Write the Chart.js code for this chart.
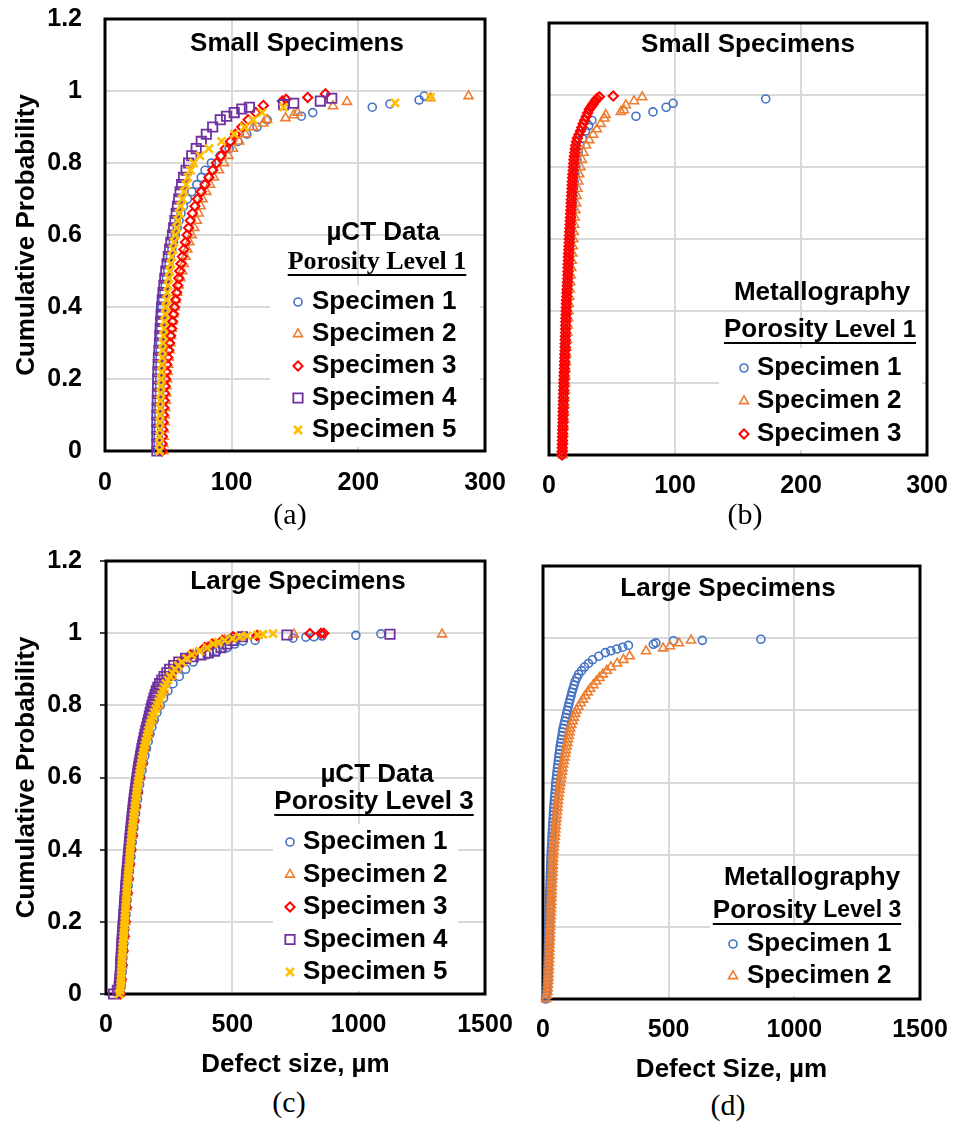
<!DOCTYPE html>
<html>
<head>
<meta charset="utf-8">
<script src="https://cdn.jsdelivr.net/npm/chart.js@4.4.1/dist/chart.umd.min.js"></script>
<style>
  body { margin: 0; background: #fff; }
  #page { position: relative; width: 953px; height: 1122px; background: #fff; overflow: hidden; }
  canvas { position: absolute; }
  .cap { position: absolute; font-family: 'Liberation Serif', 'Times New Roman', serif; font-size: 30px;
         line-height: 1; transform: translate(-50%, -50%); color: #000; }
</style>
</head>
<body>
<div id="page">
  <canvas id="chartA" width="520" height="500" style="left:0;top:0"></canvas>
  <canvas id="chartB" width="433" height="500" style="left:520px;top:0"></canvas>
  <canvas id="chartC" width="520" height="540" style="left:0;top:540px"></canvas>
  <canvas id="chartD" width="433" height="545" style="left:520px;top:540px"></canvas>
  <div class="cap" style="left:290px;top:514px">(a)</div>
  <div class="cap" style="left:745px;top:514px">(b)</div>
  <div class="cap" style="left:289px;top:1102px">(c)</div>
  <div class="cap" style="left:728px;top:1105px">(d)</div>
</div>
<script>
var SANS = "'Liberation Sans', Arial, sans-serif";
var SERIF = "'Liberation Serif', 'Times New Roman', serif";

var probTicks = [0, 0.2, 0.4, 0.6, 0.8, 1, 1.2];
var sizeTicksSmall = [0, 100, 200, 300];
var sizeTicksLarge = [0, 500, 1000, 1500];
var specimenNames = ['Specimen 1', 'Specimen 2', 'Specimen 3', 'Specimen 4', 'Specimen 5'];

// (a) µCT, small specimens, porosity level 1  -- [defect size µm, cumulative probability]
var smallCt1 = [[42,0],[42,0.02],[42,0.04],[42.2,0.06],[42.4,0.08],[42.5,0.1],[42.6,0.12],[42.8,0.14],[43,0.16],[43.1,0.18],[43.2,0.2],[43.3,0.22],[43.4,0.24],[43.5,0.26],[43.6,0.28],[43.7,0.3],[43.8,0.32],[44,0.34],[44.2,0.36],[44.5,0.38],[45,0.4],[45.5,0.42],[46.5,0.44],[47.5,0.46],[48.5,0.48],[49.5,0.5],[50.5,0.52],[51.6,0.54],[52.8,0.56],[54,0.58],[55.5,0.6],[57,0.62],[58.5,0.64],[60,0.66],[62,0.68],[65,0.7],[68.5,0.72],[72.5,0.74],[76,0.76],[79,0.78],[84,0.8],[91,0.82],[98,0.84],[105,0.86],[112,0.88],[120,0.9],[128,0.92],[155,0.93],[164,0.94],[211,0.955],[225,0.964],[248,0.975],[252,0.986]];
var smallCt2 = [[46,0],[46,0.02],[46.3,0.04],[46.6,0.06],[47,0.08],[47.3,0.1],[47.6,0.12],[48,0.14],[48.3,0.16],[48.6,0.18],[49,0.2],[49.4,0.22],[49.8,0.24],[50.4,0.26],[51,0.28],[51.6,0.3],[52.2,0.32],[52.8,0.34],[53.4,0.36],[54,0.38],[55,0.4],[56,0.42],[57,0.44],[58.2,0.46],[59.5,0.48],[61,0.5],[62.2,0.52],[63.6,0.54],[65,0.56],[66.6,0.58],[68.5,0.6],[70.5,0.62],[72.5,0.64],[74,0.66],[75.5,0.68],[77,0.7],[80,0.72],[83,0.74],[86,0.76],[90,0.78],[94,0.8],[97.5,0.82],[101,0.84],[106,0.86],[111,0.88],[117,0.9],[125,0.91],[128,0.92],[142.5,0.925],[149,0.933],[152,0.94],[180,0.958],[191,0.97],[257,0.98],[287,0.986]];
var smallCt3 = [[45,0],[45,0.02],[45.3,0.04],[45.5,0.06],[45.8,0.08],[46,0.1],[46.3,0.12],[46.6,0.14],[47,0.16],[47.4,0.18],[47.8,0.2],[48.3,0.22],[48.8,0.24],[49.5,0.26],[50.3,0.28],[51,0.3],[51.8,0.32],[52.6,0.34],[53.4,0.36],[54.2,0.38],[55,0.4],[55.8,0.42],[56.6,0.44],[57.4,0.46],[58.2,0.48],[59,0.5],[60,0.52],[61,0.54],[62.2,0.56],[63.5,0.58],[64.8,0.6],[66,0.62],[67.3,0.64],[69,0.66],[71,0.68],[73,0.7],[76,0.72],[79,0.74],[82,0.76],[85,0.78],[88,0.8],[91.5,0.82],[95,0.84],[99,0.86],[103,0.88],[108,0.9],[113,0.92],[119,0.94],[125,0.96],[140,0.972],[143,0.977],[160,0.982],[174,0.992]];
var smallCt4 = [[41,0],[41,0.02],[41,0.04],[41,0.06],[41,0.08],[41,0.1],[41.2,0.12],[41.3,0.14],[41.4,0.16],[41.5,0.18],[41.6,0.2],[41.8,0.22],[42,0.24],[42.2,0.26],[42.6,0.28],[43,0.3],[43.3,0.32],[43.6,0.34],[44,0.36],[44.3,0.38],[44.7,0.4],[45.2,0.42],[45.8,0.44],[46.5,0.46],[47.2,0.48],[48,0.5],[49,0.52],[50,0.54],[51,0.56],[52,0.58],[53.3,0.6],[54.2,0.62],[55.2,0.64],[56.2,0.66],[57.2,0.68],[58.2,0.7],[59.3,0.72],[60.5,0.74],[62,0.76],[64,0.78],[66,0.8],[68.5,0.82],[72,0.84],[76,0.86],[80,0.88],[85,0.9],[91,0.92],[96,0.93],[102,0.94],[108,0.95],[114,0.955],[141,0.962],[149,0.966],[170,0.972],[179,0.98]];
var smallCt5 = [[43,0],[43,0.02],[43.2,0.04],[43.3,0.06],[43.4,0.08],[43.5,0.1],[43.6,0.12],[43.8,0.14],[44,0.16],[44.2,0.18],[44.4,0.2],[44.6,0.22],[44.9,0.24],[45.2,0.26],[45.5,0.28],[45.8,0.3],[46.2,0.32],[46.6,0.34],[47,0.36],[47.5,0.38],[48,0.4],[48.6,0.42],[49.2,0.44],[49.8,0.46],[50.5,0.48],[51.2,0.5],[52,0.52],[52.8,0.54],[53.6,0.56],[54.5,0.58],[55.5,0.6],[56.5,0.62],[57.5,0.64],[58.6,0.66],[59.8,0.68],[61,0.7],[62.5,0.72],[64,0.74],[65.5,0.76],[67.5,0.78],[70,0.8],[75,0.82],[82,0.84],[92,0.86],[102,0.88],[110,0.9],[117,0.92],[124,0.94],[141,0.955],[229,0.967],[257,0.983]];

// (b) metallography, small specimens, porosity level 1
var smallMet1 = [[10.5,0],[10.6,0.02],[10.7,0.04],[10.8,0.06],[10.9,0.08],[11,0.1],[11.1,0.12],[11.2,0.14],[11.3,0.16],[11.5,0.18],[11.7,0.2],[11.9,0.22],[12.1,0.24],[12.3,0.26],[12.5,0.28],[12.7,0.3],[12.9,0.32],[13.1,0.34],[13.3,0.36],[13.5,0.38],[13.7,0.4],[14,0.42],[14.3,0.44],[14.6,0.46],[14.9,0.48],[15.2,0.5],[15.5,0.52],[15.8,0.54],[16.1,0.56],[16.4,0.58],[16.7,0.6],[17,0.62],[17.4,0.64],[17.8,0.66],[18.2,0.68],[18.6,0.7],[19,0.72],[19.5,0.74],[20,0.76],[20.6,0.78],[21.3,0.8],[22.2,0.82],[23.2,0.84],[24.5,0.86],[26.5,0.88],[29,0.9],[31.5,0.915],[34,0.93],[69,0.941],[82.5,0.953],[93,0.966],[98.5,0.977],[172,0.989]];
var smallMet2 = [[10.8,0],[11,0.02],[11.2,0.04],[11.4,0.06],[11.6,0.08],[11.8,0.1],[12,0.12],[12.2,0.14],[12.4,0.16],[12.6,0.18],[12.8,0.2],[13,0.22],[13.2,0.24],[13.4,0.26],[13.7,0.28],[14,0.3],[14.3,0.32],[14.6,0.34],[14.9,0.36],[15.2,0.38],[15.5,0.4],[15.8,0.42],[16.1,0.44],[16.5,0.46],[16.9,0.48],[17.3,0.5],[17.7,0.52],[18.1,0.54],[18.5,0.56],[18.9,0.58],[19.3,0.6],[19.7,0.62],[20.1,0.64],[20.5,0.66],[21,0.68],[21.5,0.7],[22,0.72],[22.6,0.74],[23.3,0.76],[24,0.78],[25,0.8],[26.2,0.82],[27.5,0.84],[29.5,0.86],[32,0.875],[35,0.89],[38,0.905],[41,0.92],[44,0.935],[45,0.945],[57,0.953],[59.5,0.958],[61,0.972],[67.5,0.983],[74,0.994]];
var smallMet3 = [[10.3,0],[10.4,0.01],[10.5,0.02],[10.55,0.03],[10.6,0.04],[10.7,0.05],[10.8,0.06],[10.85,0.07],[11,0.08],[11.05,0.09],[11.1,0.1],[11.15,0.11],[11.2,0.12],[11.3,0.13],[11.4,0.14],[11.45,0.15],[11.5,0.16],[11.6,0.17],[11.7,0.18],[11.75,0.19],[11.8,0.2],[11.9,0.21],[12,0.22],[12.1,0.23],[12.2,0.24],[12.3,0.25],[12.4,0.26],[12.5,0.27],[12.6,0.28],[12.7,0.29],[12.8,0.3],[12.85,0.31],[12.9,0.32],[13,0.33],[13.1,0.34],[13.15,0.35],[13.2,0.36],[13.3,0.37],[13.4,0.38],[13.5,0.39],[13.6,0.4],[13.7,0.41],[13.8,0.42],[13.9,0.43],[14,0.44],[14.15,0.45],[14.3,0.46],[14.45,0.47],[14.6,0.48],[14.75,0.49],[14.9,0.5],[15,0.51],[15.1,0.52],[15.2,0.53],[15.3,0.54],[15.4,0.55],[15.5,0.56],[15.65,0.57],[15.8,0.58],[15.95,0.59],[16.1,0.6],[16.25,0.61],[16.4,0.62],[16.55,0.63],[16.7,0.64],[16.85,0.65],[17,0.66],[17.15,0.67],[17.3,0.68],[17.45,0.69],[17.6,0.7],[17.75,0.71],[17.9,0.72],[18.05,0.73],[18.2,0.74],[18.35,0.75],[18.5,0.76],[18.7,0.77],[18.9,0.78],[19.1,0.79],[19.3,0.8],[19.55,0.81],[19.8,0.82],[20.1,0.83],[20.4,0.84],[20.8,0.85],[21.2,0.86],[21.8,0.87],[22.5,0.88],[23.7,0.89],[25,0.9],[26,0.91],[27,0.92],[28.2,0.93],[29.5,0.94],[30.7,0.95],[32,0.96],[33,0.965],[34,0.97],[35,0.975],[36,0.98],[37,0.985],[38,0.99],[40,0.995],[51,0.997]];

// (c) µCT, large specimens, porosity level 3
var largeCt1 = [[55,0],[60,0.02],[62,0.04],[64,0.06],[65.5,0.08],[67,0.1],[69,0.12],[71,0.14],[73,0.16],[75,0.18],[77.5,0.2],[79.5,0.22],[81.5,0.24],[83.5,0.26],[86,0.28],[88,0.3],[90.5,0.32],[93,0.34],[96,0.36],[99,0.38],[101,0.4],[104,0.42],[107,0.44],[110.5,0.46],[114,0.48],[117.5,0.5],[121,0.52],[125,0.54],[129,0.56],[133,0.58],[138,0.6],[143,0.62],[148.5,0.64],[154,0.66],[160,0.68],[167,0.7],[174,0.72],[182,0.74],[191,0.76],[202,0.78],[215,0.8],[228,0.82],[245,0.84],[265,0.86],[290,0.88],[315,0.9],[345,0.92],[400,0.94],[440,0.95],[480,0.96],[510,0.97],[542,0.978],[590,0.98],[740,0.986],[791,0.989],[823,0.99],[855,0.992],[989,0.994],[1088,0.998]];
var largeCt2 = [[54,0],[60,0.04],[64,0.08],[67,0.12],[72,0.16],[76,0.2],[80,0.24],[84,0.28],[88.5,0.32],[93.5,0.36],[98,0.4],[104,0.44],[110,0.48],[117,0.52],[124,0.56],[132.5,0.6],[142,0.64],[153,0.68],[167,0.72],[182,0.76],[205,0.8],[228,0.84],[258,0.88],[277,0.9],[302,0.92],[345,0.94],[400,0.96],[430,0.97],[470,0.98],[540,0.99],[600,0.993],[744,0.997],[1330,0.997]];
var largeCt3 = [[56,0],[61,0.04],[65,0.08],[68,0.12],[73,0.16],[77,0.2],[81,0.24],[85,0.28],[89,0.32],[94,0.36],[99,0.4],[104.5,0.44],[110.5,0.48],[117,0.52],[124,0.56],[132,0.6],[141,0.64],[152,0.68],[165,0.72],[180,0.76],[200,0.8],[222,0.84],[252,0.88],[270,0.9],[295,0.92],[335,0.94],[390,0.96],[420,0.97],[460,0.98],[503,0.99],[597,0.993],[807,0.999],[851,0.9995],[862,1]];
var largeCt4 = [[30,0],[45,0.01],[52,0.02],[53.5,0.03],[55,0.04],[56,0.05],[57,0.06],[57.8,0.07],[58.5,0.08],[59.2,0.09],[60,0.1],[60.8,0.11],[61.5,0.12],[62.2,0.13],[63,0.14],[64,0.15],[65,0.16],[66,0.17],[67,0.18],[68,0.19],[69,0.2],[70,0.21],[71,0.22],[72,0.23],[73,0.24],[74,0.25],[75,0.26],[76,0.27],[77,0.28],[78,0.29],[79,0.3],[80,0.31],[81,0.32],[82.2,0.33],[83.5,0.34],[84.8,0.35],[86,0.36],[87.2,0.37],[88.5,0.38],[89.8,0.39],[91,0.4],[92.2,0.41],[93.5,0.42],[94.8,0.43],[96,0.44],[97.5,0.45],[99,0.46],[100.5,0.47],[102,0.48],[103.5,0.49],[105,0.5],[106.5,0.51],[108,0.52],[109.8,0.53],[111.5,0.54],[113.2,0.55],[115,0.56],[117,0.57],[119,0.58],[121,0.59],[123,0.6],[125,0.61],[127,0.62],[129.5,0.63],[132,0.64],[134.5,0.65],[137,0.66],[139.5,0.67],[142,0.68],[145,0.69],[148,0.7],[151,0.71],[154,0.72],[157.5,0.73],[161,0.74],[164.5,0.75],[168,0.76],[171.5,0.77],[175,0.78],[178.5,0.79],[182,0.8],[186,0.81],[190,0.82],[194.5,0.83],[199,0.84],[205,0.85],[212,0.86],[221,0.87],[230,0.88],[241,0.89],[252,0.9],[268,0.91],[288,0.92],[315,0.93],[345,0.935],[375,0.94],[405,0.945],[430,0.95],[455,0.96],[478,0.97],[500,0.98],[540,0.99],[716,0.995],[1124,0.997]];
var largeCt5 = [[52,0],[56,0.01],[58,0.02],[58.8,0.03],[59.5,0.04],[60.2,0.05],[61,0.06],[61.8,0.07],[62.5,0.08],[63.2,0.09],[64,0.1],[64.8,0.11],[65.7,0.12],[66.8,0.13],[68,0.14],[69,0.15],[70,0.16],[71,0.17],[72,0.18],[73.2,0.19],[74.5,0.2],[75.2,0.21],[76,0.22],[77,0.23],[78,0.24],[79,0.25],[80,0.26],[81,0.27],[82,0.28],[83,0.29],[84,0.3],[85.2,0.31],[86.5,0.32],[87.8,0.33],[89,0.34],[90.2,0.35],[91.5,0.36],[92.8,0.37],[94,0.38],[95,0.39],[96,0.4],[97.5,0.41],[99,0.42],[100.5,0.43],[102,0.44],[103.5,0.45],[105,0.46],[106.5,0.47],[108,0.48],[109.8,0.49],[111.5,0.5],[113.2,0.51],[115,0.52],[116.8,0.53],[118.5,0.54],[120.2,0.55],[122,0.56],[124,0.57],[126,0.58],[128.2,0.59],[130.5,0.6],[132.8,0.61],[135,0.62],[137.5,0.63],[140,0.64],[142.5,0.65],[145,0.66],[148,0.67],[151,0.68],[154.5,0.69],[158,0.7],[161.5,0.71],[165,0.72],[168.5,0.73],[172,0.74],[176,0.75],[180,0.76],[185.5,0.77],[191,0.78],[197,0.79],[203,0.8],[208.5,0.81],[214,0.82],[219.5,0.83],[225,0.84],[231,0.85],[237,0.86],[245.5,0.87],[254,0.88],[263.5,0.89],[273,0.9],[286,0.91],[300,0.92],[320,0.93],[340,0.94],[370,0.95],[400,0.96],[425,0.97],[445,0.975],[470,0.98],[500,0.985],[530,0.99],[558,0.993],[600,0.995],[621,0.997],[661,0.999]];

// (d) metallography, large specimens, porosity level 3
var largeMet1 = [[10,0],[14,0.01],[16,0.02],[16.7,0.03],[17.4,0.04],[18,0.05],[18.4,0.06],[18.8,0.07],[19.2,0.08],[19.6,0.09],[20,0.1],[20.3,0.11],[20.6,0.12],[20.9,0.13],[21.2,0.14],[21.5,0.15],[21.8,0.16],[22.1,0.17],[22.4,0.18],[22.7,0.19],[23,0.2],[23.4,0.21],[23.8,0.22],[24.2,0.23],[24.6,0.24],[25,0.25],[25.4,0.26],[25.8,0.27],[26.2,0.28],[26.6,0.29],[27,0.3],[27.5,0.31],[28,0.32],[28.5,0.33],[29,0.34],[29.5,0.35],[30,0.36],[30.5,0.37],[31,0.38],[31.5,0.39],[32,0.4],[32.8,0.41],[33.6,0.42],[34.4,0.43],[35.2,0.44],[36,0.45],[36.8,0.46],[37.6,0.47],[38.4,0.48],[39.2,0.49],[40,0.5],[41,0.51],[42,0.52],[43,0.53],[44,0.54],[45,0.55],[46.2,0.56],[47.4,0.57],[48.6,0.58],[49.8,0.59],[51,0.6],[52.6,0.61],[54.2,0.62],[55.8,0.63],[57.4,0.64],[59,0.65],[60.8,0.66],[62.6,0.67],[64.4,0.68],[66.2,0.69],[68,0.7],[70.4,0.71],[72.8,0.72],[75.2,0.73],[77.6,0.74],[80,0.75],[83.4,0.76],[86.8,0.77],[90.2,0.78],[93.6,0.79],[97,0.8],[100.6,0.81],[104.2,0.82],[107.8,0.83],[111.4,0.84],[115,0.85],[119.3,0.86],[123.7,0.87],[128,0.88],[135,0.89],[142,0.9],[153.5,0.91],[165,0.92],[181,0.93],[197,0.94],[222,0.95],[248,0.96],[270,0.965],[294,0.97],[317,0.975],[340,0.98],[439,0.983],[449,0.987],[519,0.993],[634,0.994],[867,0.997]];
var largeMet2 = [[12,0],[15,0.01],[18,0.02],[19,0.03],[20,0.04],[21,0.05],[21.6,0.06],[22.2,0.07],[22.8,0.08],[23.4,0.09],[24,0.1],[24.5,0.11],[25,0.12],[25.5,0.13],[26,0.14],[26.5,0.15],[27,0.16],[27.5,0.17],[28,0.18],[28.5,0.19],[29,0.2],[29.6,0.21],[30.2,0.22],[30.8,0.23],[31.4,0.24],[32,0.25],[32.6,0.26],[33.2,0.27],[33.8,0.28],[34.4,0.29],[35,0.3],[35.6,0.31],[36.2,0.32],[36.8,0.33],[37.4,0.34],[38,0.35],[38.6,0.36],[39.2,0.37],[39.8,0.38],[40.4,0.39],[41,0.4],[42.2,0.41],[43.4,0.42],[44.6,0.43],[45.8,0.44],[47,0.45],[48.2,0.46],[49.4,0.47],[50.6,0.48],[51.8,0.49],[53,0.5],[54.4,0.51],[55.8,0.52],[57.2,0.53],[58.6,0.54],[60,0.55],[61.8,0.56],[63.6,0.57],[65.4,0.58],[67.2,0.59],[69,0.6],[71.2,0.61],[73.4,0.62],[75.6,0.63],[77.8,0.64],[80,0.65],[82.8,0.66],[85.6,0.67],[88.4,0.68],[91.2,0.69],[94,0.7],[96.8,0.71],[99.6,0.72],[102.4,0.73],[105.2,0.74],[108,0.75],[113,0.76],[118,0.77],[123,0.78],[128,0.79],[133,0.8],[141.5,0.81],[150,0.82],[159,0.83],[168,0.84],[178,0.85],[188,0.86],[200,0.87],[212,0.88],[225,0.89],[238,0.9],[254,0.91],[270,0.92],[295,0.93],[320,0.94],[345,0.95],[410,0.964],[478,0.972],[505,0.978],[541,0.986],[589,0.994]];

var markers = [
  { color: '#4472C4', style: 'circle',    r: 4,   w: 1.6 },
  { color: '#ED7D31', style: 'triangle',  r: 5.2, w: 1.6 },
  { color: '#FF0000', style: 'rectRot',   r: 4.6, w: 2 },
  { color: '#7030A0', style: 'rect',      r: 6.6, w: 1.8 },
  { color: '#FFC000', style: 'crossRot',  r: 5.6, w: 2.6 }
];

function makeSeries(list) {
  return list.map(function (pts, i) {
    var m = markers[i];
    return {
      label: specimenNames[i],
      data: pts.map(function (p) { return { x: p[0], y: p[1] }; }),
      pointStyle: m.style,
      pointRadius: m.r,
      pointBorderWidth: m.w,
      pointBorderColor: m.color,
      pointBackgroundColor: 'rgba(0,0,0,0)',
      borderColor: m.color,
      backgroundColor: 'rgba(0,0,0,0)',
      showLine: false,
      clip: false,
      order: list.length - i
    };
  });
}

var panelDecor = {
  id: 'panelDecor',
  beforeDatasetsDraw: function (chart) {
    var a = chart.chartArea, ctx = chart.ctx;
    ctx.save();
    ctx.strokeStyle = '#000';
    ctx.lineWidth = 3;
    ctx.strokeRect(a.left, a.top, a.right - a.left, a.bottom - a.top);
    ctx.restore();
  },
  afterDatasetsDraw: function (chart, args, o) {
    var ctx = chart.ctx;
    ctx.save();
    ctx.textBaseline = 'middle';
    ctx.fillStyle = '#000';
    ctx.font = 'bold 26px ' + SANS;
    ctx.textAlign = 'center';
    ctx.fillText(o.title, o.titleX, o.titleY);

    ctx.fillStyle = '#fff';
    ctx.fillRect(o.box[0], o.box[1], o.box[2], o.box[3]);

    o.heads.forEach(function (h) {
      var total = 0;
      h.parts.forEach(function (p) { ctx.font = p[1]; total += ctx.measureText(p[0]).width; });
      var x = h.cx - total / 2;
      ctx.textAlign = 'left';
      ctx.fillStyle = '#000';
      h.parts.forEach(function (p) {
        ctx.font = p[1];
        ctx.fillText(p[0], x, h.y);
        x += ctx.measureText(p[0]).width;
      });
      if (h.underline) ctx.fillRect(h.cx - total / 2, h.y + 12, total, 2);
    });

    chart.data.datasets.forEach(function (ds, i) {
      var y = o.rows[i];
      ctx.strokeStyle = ds.pointBorderColor;
      ctx.fillStyle = 'rgba(0,0,0,0)';
      ctx.lineWidth = ds.pointBorderWidth;
      Chart.helpers.drawPoint(ctx, {
        pointStyle: ds.pointStyle, radius: ds.pointRadius,
        borderWidth: ds.pointBorderWidth, rotation: 0
      }, o.markX, y);
      ctx.fillStyle = '#000';
      ctx.font = 'bold 26px ' + SANS;
      ctx.textAlign = 'left';
      ctx.fillText(ds.label, o.textX, y);
    });
    ctx.restore();
  }
};

function makeChart(id, series, o) {
  var tickFont = { family: SANS, size: 25, weight: 'bold' };
  var titleFont = { family: SANS, size: 26, weight: 'bold' };
  return new Chart(document.getElementById(id), {
    type: 'scatter',
    data: { datasets: makeSeries(series) },
    options: {
      responsive: false,
      animation: false,
      devicePixelRatio: 1,
      events: [],
      layout: { padding: { left: 0, top: o.top, right: o.right, bottom: 0 } },
      scales: {
        x: {
          type: 'linear',
          min: o.xTicks[0],
          max: o.xTicks[o.xTicks.length - 1],
          afterBuildTicks: function (s) { s.ticks = o.xTicks.map(function (v) { return { value: v }; }); },
          afterFit: function (s) { s.height = o.xH; s.paddingLeft = 0; s.paddingRight = 0; },
          grid: { color: '#d9d9d9', lineWidth: 2, drawTicks: false },
          border: { display: false },
          ticks: { padding: o.xPad, color: '#000', font: tickFont, maxRotation: 0, autoSkip: false,
                   callback: function (v) { return String(v); } },
          title: { display: !!o.xTitle, text: o.xTitle || '', color: '#000', font: titleFont,
                   padding: { top: 0, bottom: 0 } }
        },
        y: {
          type: 'linear',
          min: probTicks[0],
          max: probTicks[probTicks.length - 1],
          afterBuildTicks: function (s) { s.ticks = probTicks.map(function (v) { return { value: v }; }); },
          afterFit: function (s) { s.width = o.yW; s.paddingTop = 0; s.paddingBottom = 0; },
          grid: { color: '#d9d9d9', lineWidth: 2, drawTicks: !!o.yTickMarks, tickLength: 6,
                  tickColor: '#000', tickWidth: 1.5 },
          border: { display: false },
          ticks: { display: !!o.yLabels, padding: o.yPad || 0, color: '#000', font: tickFont, autoSkip: false,
                   callback: function (v) { return String(v); } },
          title: { display: !!o.yLabels, text: 'Cumulative Probability', color: '#000', font: titleFont,
                   padding: { top: 11, bottom: 0 } }
        }
      },
      plugins: {
        legend: { display: false },
        tooltip: { enabled: false },
        panelDecor: o.decor
      }
    },
    plugins: [panelDecor]
  });
}

var B26 = 'bold 26px ' + SANS;

makeChart('chartA', [smallCt1, smallCt2, smallCt3, smallCt4, smallCt5], {
  top: 19, right: 35, xH: 49, yW: 105, xPad: 17, yPad: 23, yLabels: true,
  xTicks: sizeTicksSmall,
  decor: {
    title: 'Small Specimens', titleX: 297, titleY: 44,
    box: [270, 285, 210, 162],
    heads: [
      { parts: [['µCT Data', B26]], cx: 383, y: 233 },
      { parts: [['Porosity Level 1', 'bold 26px ' + SERIF]], cx: 377, y: 262, underline: true }
    ],
    markX: 298, textX: 312, rows: [302, 334, 366, 398, 430]
  }
});

makeChart('chartB', [smallMet1, smallMet2, smallMet3], {
  top: 23, right: 26, xH: 45, yW: 29, xPad: 16, yLabels: false,
  xTicks: sizeTicksSmall,
  decor: {
    title: 'Small Specimens', titleX: 228, titleY: 45,
    box: [199, 348, 203, 102],
    heads: [
      { parts: [['Metallography', B26]], cx: 302, y: 293 },
      { parts: [['Porosity', B26], [' Level 1', 'bold 24px ' + SANS]], cx: 300, y: 330, underline: true }
    ],
    markX: 224, textX: 237, rows: [368, 401, 434]
  }
});

makeChart('chartC', [largeCt1, largeCt2, largeCt3, largeCt4, largeCt5], {
  top: 21, right: 35, xH: 86, yW: 106, xPad: 16, yPad: 18, yLabels: true, yTickMarks: true,
  xTicks: sizeTicksLarge, xTitle: 'Defect size, µm',
  decor: {
    title: 'Large Specimens', titleX: 298, titleY: 42,
    box: [273, 284, 185, 167],
    heads: [
      { parts: [['µCT Data', B26]], cx: 377, y: 235 },
      { parts: [['Porosity Level 3', B26]], cx: 374, y: 262, underline: true }
    ],
    markX: 290, textX: 303, rows: [302, 334.5, 367, 399.5, 432]
  }
});

makeChart('chartD', [largeMet1, largeMet2], {
  top: 26, right: 33, xH: 86, yW: 23, xPad: 16, yLabels: false,
  xTicks: sizeTicksLarge, xTitle: 'Defect Size, µm',
  decor: {
    title: 'Large Specimens', titleX: 208, titleY: 49,
    box: [190, 386, 208, 70],
    heads: [
      { parts: [['Metallography', B26]], cx: 292, y: 338 },
      { parts: [['Porosity', B26], [' Level 3', 'bold 23px ' + SANS]], cx: 287, y: 371, underline: true }
    ],
    markX: 213, textX: 227, rows: [404, 436]
  }
});
</script>
</body>
</html>
